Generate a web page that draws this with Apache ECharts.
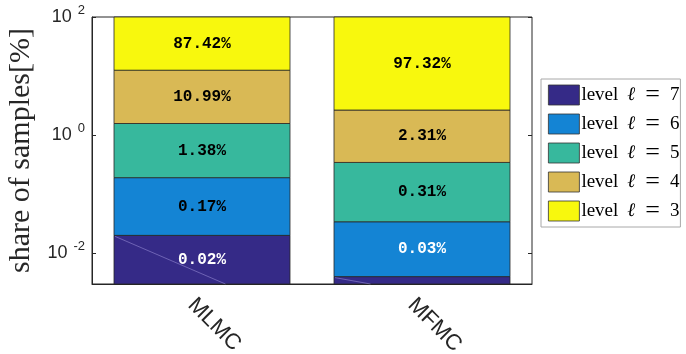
<!DOCTYPE html>
<html>
<head>
<meta charset="utf-8">
<script src="https://cdn.jsdelivr.net/npm/echarts@6/dist/echarts.min.js"></script>
<style>
  html, body { margin: 0; padding: 0; background: #ffffff; }
  #chart { width: 686px; height: 354px; }
</style>
</head>
<body>
<div id="chart"></div>
<script>
// Share of samples per level, in percent (stacked from the finest level up)
const categories = ['MLMC', 'MFMC'];
const levelNumbers = [7, 6, 5, 4, 3];
const levelNames = ['level ℓ = 7', 'level ℓ = 6', 'level ℓ = 5', 'level ℓ = 4', 'level ℓ = 3'];
const level7 = [0.02, 0.004];
const level6 = [0.17, 0.03];
const level5 = [1.38, 0.31];
const level4 = [10.99, 2.31];
const level3 = [87.42, 97.32];
const levelColors = ['#352a87', '#1484d4', '#37b89d', '#d9b955', '#f8f80d'];

// Value axis range, labelled decades, and the value the lowest segment grows from
const yMin = 0.003;
const yMax = 100;
const yTickValues = [0.01, 1, 100];
const barBase = 0.001;

const levels = [level7, level6, level5, level4, level3];

// Cumulative tops per level, used as each segment's lower/upper bound
const cumulative = [];
levels.forEach((vals, i) => {
  cumulative.push(vals.map((v, j) => (i === 0 ? 0 : cumulative[i - 1][j]) + v));
});

function renderSegment(params, api) {
  const j = api.value(0);
  const lo = api.value(1);
  const hi = api.value(2);
  const val = api.value(3);
  const cs = params.coordSys;
  const w = api.size([1, 0])[0] * 0.8;
  const pTop = api.coord([j, hi]);
  const pBot = api.coord([j, lo]);
  const x0 = pTop[0] - w / 2;
  const plotBottom = cs.y + cs.height;
  const yt = Math.max(pTop[1], cs.y);
  const yb = Math.min(pBot[1], plotBottom);
  const children = [{
    type: 'rect',
    shape: { x: x0, y: yt, width: w, height: yb - yt },
    style: { fill: api.visual('color'), stroke: '#262626', lineWidth: 0.8 }
  }];
  // faint diagonal seam across the lowest segment
  if (params.seriesIndex === 0 && pBot[1] > plotBottom) {
    const t = (plotBottom - pTop[1]) / (pBot[1] - pTop[1]);
    children.push({
      type: 'line',
      shape: { x1: x0 + 1, y1: pTop[1] + 1, x2: x0 + t * w, y2: plotBottom },
      style: { stroke: '#9a90d8', lineWidth: 0.8, opacity: 0.7 }
    });
  }
  const txt = val.toFixed(2);
  if (txt !== '0.00') {
    children.push({
      type: 'text',
      x: pTop[0],
      y: (yt + yb) / 2,
      style: {
        text: txt + '%',
        fill: val < 0.1 ? '#ffffff' : '#000000',
        font: 'bold 16px "Liberation Mono", "Courier New", monospace',
        align: 'center',
        verticalAlign: 'middle'
      }
    });
  }
  return { type: 'group', children: children };
}

const series = levels.map((vals, i) => ({
  name: levelNames[i],
  type: 'custom',
  renderItem: renderSegment,
  itemStyle: { color: levelColors[i] },
  encode: { x: 0, y: [1, 2] },
  data: vals.map((v, j) => [j, i === 0 ? barBase : cumulative[i - 1][j], cumulative[i][j], v]),
  z: 2
}));

function powerLabel(v) {
  const e = Math.round(Math.log10(v));
  return '{b|10}{s|' + e + '}';
}

const serif = '"Liberation Serif", "DejaVu Serif", serif';
const sans = '"Liberation Sans", Arial, sans-serif';

const chart = echarts.init(document.getElementById('chart'));
chart.setOption({
  animation: false,
  backgroundColor: '#ffffff',
  grid: {
    left: 92, right: 154, top: 17, bottom: 70,
    containLabel: false,
    outerBoundsMode: 'none',
    show: true, borderColor: '#262626', borderWidth: 1, backgroundColor: 'transparent'
  },
  legend: {
    data: levelNames,
    orient: 'vertical',
    left: 541,
    top: 79,
    padding: [3, 1, 3, 7],
    itemWidth: 31,
    itemHeight: 20,
    itemGap: 3,
    icon: 'rect',
    itemStyle: { borderColor: '#333333', borderWidth: 0.8 },
    borderColor: '#a8a8a8',
    borderWidth: 1,
    formatter: function (name) {
      const n = levelNumbers[levelNames.indexOf(name)];
      return '{t|level}{l|ℓ}{e|=}{n|' + n + '}';
    },
    textStyle: {
      fontFamily: serif, fontSize: 19, color: '#000000', lineHeight: 20,
      rich: {
        t: { fontFamily: serif, fontSize: 19, lineHeight: 20, color: '#000000', padding: [0, 0, 0, -3] },
        l: { fontFamily: serif, fontSize: 19, lineHeight: 20, fontStyle: 'italic', color: '#000000', padding: [0, 0, 0, 9] },
        e: { fontFamily: serif, fontSize: 26, lineHeight: 20, color: '#000000', padding: [0, 0, 0, 10] },
        n: { fontFamily: serif, fontSize: 19, lineHeight: 20, color: '#000000', padding: [0, 0, 0, 10] }
      }
    }
  },
  xAxis: {
    type: 'category',
    data: categories,
    axisTick: { show: false },
    axisLine: { show: true, lineStyle: { color: '#262626', width: 1 } },
    axisLabel: {
      rotate: -45,
      margin: 7,
      verticalAlign: 'top',
      lineHeight: 30,
      fontSize: 22,
      fontFamily: sans,
      color: '#262626'
    },
    splitLine: { show: false }
  },
  yAxis: [{
    type: 'log',
    logBase: 10,
    min: yMin,
    max: yMax,
    name: 'share of samples[%]',
    nameLocation: 'middle',
    nameGap: 44,
    nameTextStyle: { fontFamily: serif, fontSize: 30, color: '#262626' },
    axisLine: { show: true, lineStyle: { color: '#262626', width: 1 } },
    axisTick: { show: true, inside: true, length: 4, customValues: yTickValues, lineStyle: { color: '#262626' } },
    axisLabel: {
      margin: 7,
      customValues: yTickValues,
      formatter: powerLabel,
      rich: {
        b: { fontSize: 18, fontFamily: sans, color: '#262626', lineHeight: 18, verticalAlign: 'middle' },
        s: { fontSize: 13, fontFamily: sans, color: '#262626', lineHeight: 18, verticalAlign: 'middle', padding: [0, 0, 13, 6] }
      }
    },
    splitLine: { show: false }
  }, {
    type: 'log',
    logBase: 10,
    min: yMin,
    max: yMax,
    position: 'right',
    axisLine: { show: false },
    axisTick: { show: true, inside: true, length: 4, customValues: yTickValues, lineStyle: { color: '#262626' } },
    axisLabel: { show: false },
    splitLine: { show: false }
  }],
  series: series
});
</script>
</body>
</html>
